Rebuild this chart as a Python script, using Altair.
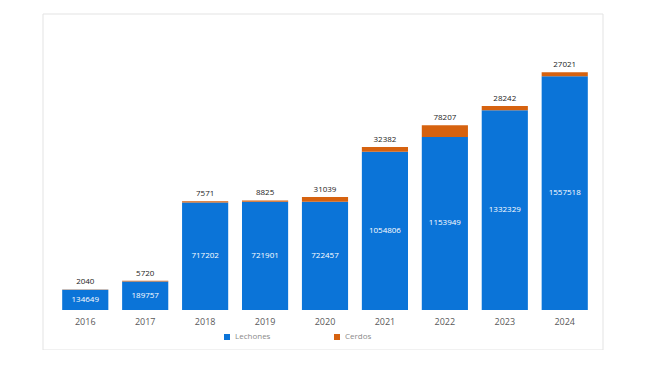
import altair as alt
import pandas as pd

years = ["2016", "2017", "2018", "2019", "2020", "2021", "2022", "2023", "2024"]
lechones = [134649, 189757, 717202, 721901, 722457, 1054806, 1153949, 1332329, 1557518]
cerdos = [2040, 5720, 7571, 8825, 31039, 32382, 78207, 28242, 27021]
series = ["Lechones", "Cerdos"]
colors = ["#0B74D8", "#D6620F"]

rows = []
for y, l, c in zip(years, lechones, cerdos):
    rows.append({"year": y, "serie": "Lechones", "value": l, "ord": 0})
    rows.append({"year": y, "serie": "Cerdos", "value": c, "ord": 1})
df = pd.DataFrame(rows)
lab = pd.DataFrame({"year": years, "lech": lechones, "cerd": cerdos,
                    "mid": [v / 2 for v in lechones],
                    "total": [a + b for a, b in zip(lechones, cerdos)]})

FONT = "Open Sans"

xenc = alt.X("year:N", sort=years, title=None,
             scale=alt.Scale(paddingInner=0.23, paddingOuter=0.12),
             axis=alt.Axis(domain=False, ticks=False, labelAngle=0, labelFontSize=9,
                           labelColor="#595959", labelPadding=7, labelFont=FONT, zindex=1))
yscale = alt.Scale(domain=[0, 1800000])

frame = alt.Chart(pd.DataFrame({"a": [0]})).mark_rect(
    fillOpacity=0, stroke="#e3e3e3", strokeWidth=1
).encode(x=alt.value(-12), x2=alt.value(548), y=alt.value(-26), y2=alt.value(310))

bars = alt.Chart(df).mark_bar().encode(
    x=xenc,
    y=alt.Y("value:Q", stack="zero", scale=yscale, axis=None, title=None),
    color=alt.Color("serie:N", scale=alt.Scale(domain=series, range=colors),
                    legend=alt.Legend(title=None, orient="none", legendX=168, legendY=293,
                                      direction="horizontal", symbolType="square",
                                      symbolSize=36, labelFontSize=8, labelColor="#8a8a8a",
                                      labelFont=FONT, columnPadding=62, symbolStrokeWidth=0)),
    order=alt.Order("ord:Q"),
)

inner = alt.Chart(lab).mark_text(color="white", fontSize=8, font=FONT, baseline="middle").encode(
    x=alt.X("year:N", sort=years),
    y=alt.Y("mid:Q", scale=yscale),
    text=alt.Text("lech:Q", format="d"),
)

top = alt.Chart(lab).mark_text(color="#222222", fontSize=8, font=FONT, baseline="bottom", dy=-3).encode(
    x=alt.X("year:N", sort=years),
    y=alt.Y("total:Q", scale=yscale),
    text=alt.Text("cerd:Q", format="d"),
)

chart = alt.layer(bars, inner, top, frame).properties(
    width=540, height=270,
    background="white",
    autosize=alt.AutoSizeParams(type="none"),
    padding={"left": 47, "top": 32, "right": 47, "bottom": 40},
).configure_view(strokeWidth=0, stroke="transparent")

chart.save("out.html", embed_options={"renderer": "svg", "actions": False})
